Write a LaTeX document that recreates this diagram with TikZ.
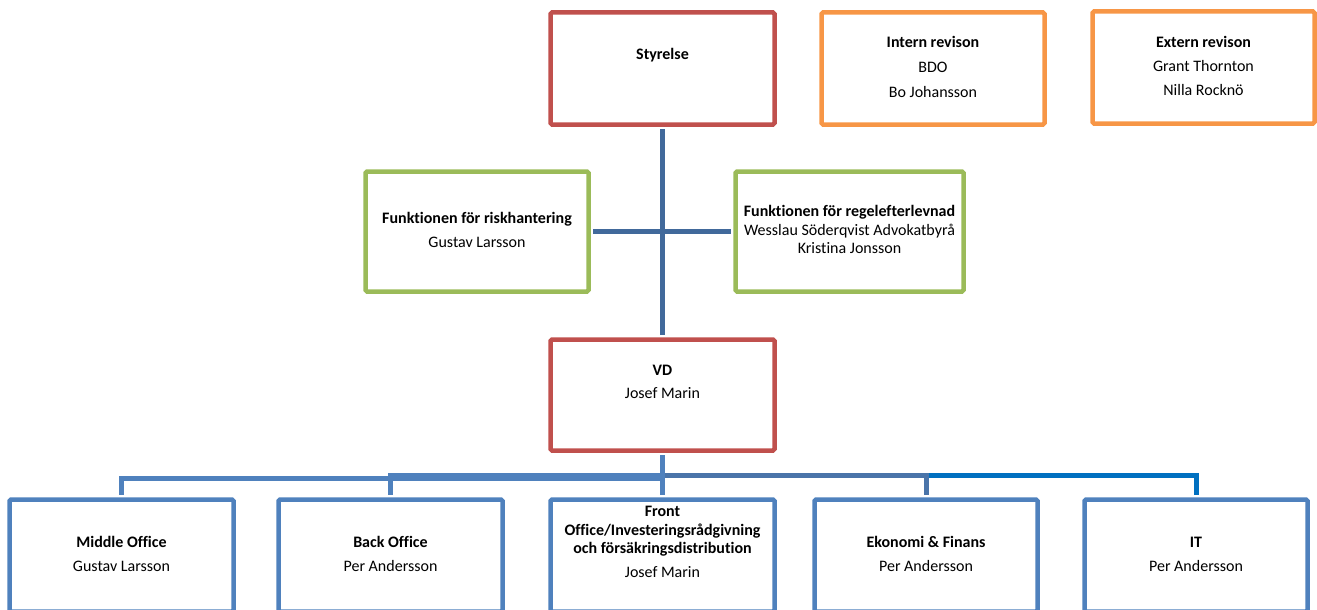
\documentclass[tikz,border=0pt]{standalone}
\usepackage{fontspec}
\setmainfont{Carlito}[Ligatures={NoCommon}]
\definecolor{boxred}{HTML}{C0504D}
\definecolor{boxorange}{HTML}{F79646}
\definecolor{boxgreen}{HTML}{9BBB59}
\definecolor{boxblue}{HTML}{4F81BD}
\definecolor{linedark}{HTML}{41699B}
\definecolor{linemid}{HTML}{4A74A9}
\definecolor{linebright}{HTML}{0070C0}
\begin{document}
\begin{tikzpicture}[x=1pt,y=-1pt,
  box/.style={draw, line width=4.5pt, rounded corners=1.5pt, inner sep=0pt,
    align=center, text=black, font=\fontsize{16}{18.5}\selectfont},
  redbox/.style={box, draw=boxred},
  orangebox/.style={box, draw=boxorange},
  greenbox/.style={box, draw=boxgreen},
  bluebox/.style={box, draw=boxblue},
  conn/.style={line width=5pt, shorten >=2.25pt, shorten <=2.25pt}]
\useasboundingbox (0,0) rectangle (1317,610);
\clip (0,0) rectangle (1317,610);
% top row
\node[redbox, minimum width=224pt, minimum height=112pt] (sty) at (662.5,68.5)
  {\textbf{Styrelse}\strut\\[6pt]\strut};
\node[orangebox, minimum width=223pt, minimum height=112pt] (intern) at (933,68.5)
  {\textbf{Intern revison}\strut\\[6.5pt]BDO\strut\\[6.5pt]Bo Johansson\strut};
\node[orangebox, minimum width=222pt, minimum height=112pt] (extern) at (1203.5,67.5)
  {\textbf{Extern revison}\strut\\[5.5pt]Grant Thornton\strut\\[5.5pt]Nilla Rocknö\strut};
% middle row
\node[greenbox, minimum width=223pt, minimum height=120pt] (risk) at (477,231.5)
  {\textbf{Funktionen för riskhantering}\strut\\[5.5pt]Gustav Larsson\strut};
\node[greenbox, minimum width=228pt, minimum height=120pt] (regel) at (849.5,231.5)
  {\textbf{Funktionen för regelefterlevnad}\strut\\Wesslau Söderqvist Advokatbyrå\strut\\Kristina Jonsson\strut};
\node[redbox, minimum width=224pt, minimum height=111pt] (vd) at (662.5,395)
  {\textbf{VD}\strut\\[5pt]Josef Marin\strut\\[5pt]\strut};
% bottom row
\node[bluebox, minimum width=224pt, minimum height=112pt] (mid) at (121.5,555.5)
  {\textbf{Middle Office}\strut\\[5.5pt]Gustav Larsson\strut};
\node[bluebox, minimum width=224pt, minimum height=112pt] (back) at (390.5,555.5)
  {\textbf{Back Office}\strut\\[5.5pt]Per Andersson\strut};
\node[bluebox, minimum width=224pt, minimum height=112pt] (front) at (662.5,555.5)
  {\textbf{Front}\strut\\\textbf{Office/Investeringsrådgivning}\strut\\\textbf{och försäkringsdistribution}\strut\\[5.5pt]Josef Marin\strut\\[5.5pt]\strut};
\node[bluebox, minimum width=223pt, minimum height=112pt] (eko) at (926,555.5)
  {\textbf{Ekonomi \& Finans}\strut\\[5.5pt]Per Andersson\strut};
\node[bluebox, minimum width=223pt, minimum height=112pt] (it) at (1196,555.5)
  {\textbf{IT}\strut\\[5.5pt]Per Andersson\strut};
% connectors
\draw[conn, linedark] (sty.south) -- (vd.north);
\draw[conn, linedark] (risk.east) -- (regel.west);
\draw[conn, linebright] (vd.south) -- ++(0,22.5) -| (it.north);
\draw[conn, linemid] (vd.south) -- ++(0,22.5) -| (eko.north);
\draw[conn, boxblue] (vd.south) -- ++(0,25.5) -| (mid.north);
\draw[conn, boxblue] (vd.south) -- ++(0,22.5) -| (back.north);
\draw[conn, boxblue] (vd.south) -- (front.north);
\end{tikzpicture}
\end{document}
